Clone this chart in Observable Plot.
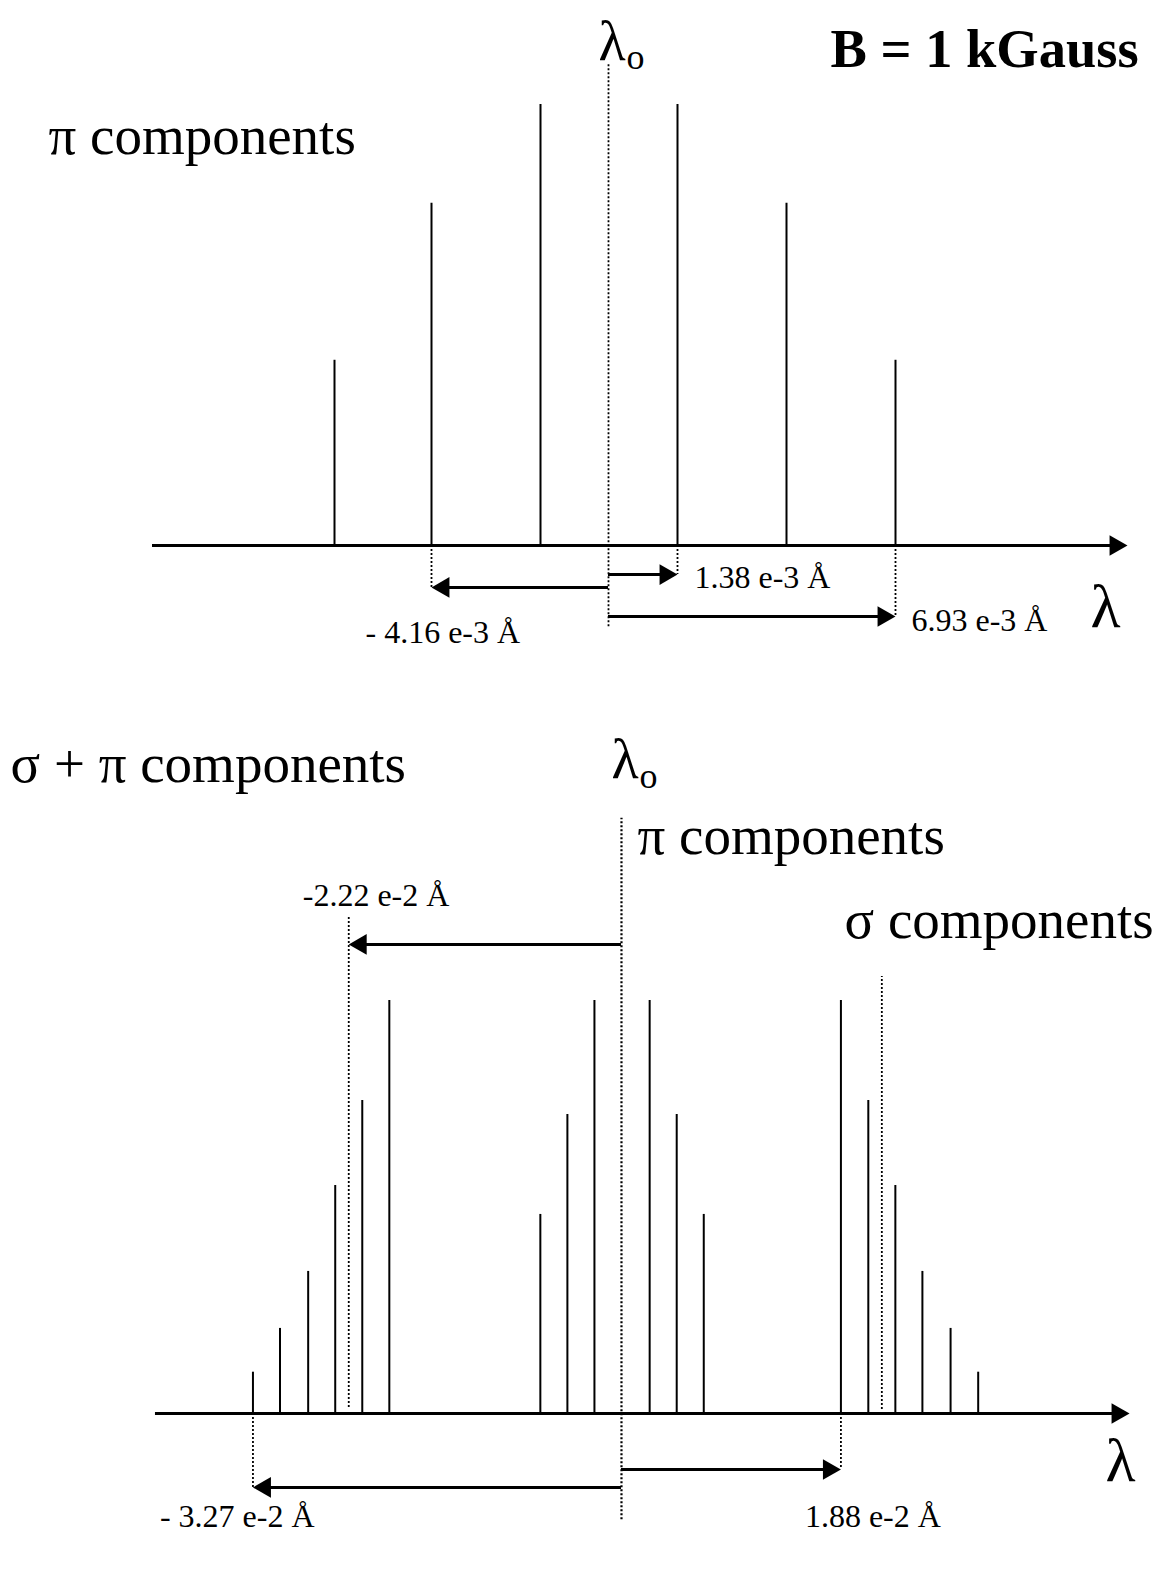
<!DOCTYPE html>
<html>
<head>
<meta charset="utf-8">
<script src="https://cdn.jsdelivr.net/npm/d3@7"></script>
<script src="https://cdn.jsdelivr.net/npm/@observablehq/plot@0.6"></script>
<style>
  html, body { margin: 0; padding: 0; background: #fff; }
  #chart { width: 1165px; }
  #chart svg { display: block; background: #fff; }
</style>
</head>
<body>
<div id="chart"></div>
<script>
// ================= DATA =================
// Top panel (B = 1 kGauss): π components, schematic offsets from λo (units of 1e-3 Å) and relative strengths
const topPiOffset   = [-5.48, -3.54, -1.36, 1.38, 3.56, 5.74];
const topPiStrength = [0.42, 0.776, 1.0, 1.0, 0.776, 0.42];
// Shift annotations: label text, and index of the line each arrow points to
const topShiftLabel = ["1.38 e-3 Å", "- 4.16 e-3 Å", "6.93 e-3 Å"];
const topShiftLine  = [3, 1, 5];

// Bottom panel: σ + π components, schematic offsets from λo (units of 1e-2 Å) and relative strengths
const sigmaBlueOffset   = [-3.27, -3.03, -2.78, -2.54, -2.30, -2.06];
const sigmaBlueStrength = [0.10, 0.206, 0.344, 0.552, 0.758, 1.0];
const piOffset          = [-0.72, -0.48, -0.24, 0.25, 0.49, 0.73];
const piStrength        = [0.482, 0.724, 1.0, 1.0, 0.724, 0.482];
const sigmaRedOffset    = [1.947, 2.19, 2.43, 2.67, 2.92, 3.165];
const sigmaRedStrength  = [1.0, 0.758, 0.552, 0.344, 0.206, 0.10];
const sigmaCentroid     = [-2.42, 2.31];
const bottomShiftLabel  = ["-2.22 e-2 Å", "- 3.27 e-2 Å", "1.88 e-2 Å"];
// index into: 0 -> left σ centroid, 1 -> first σ line (blue side), 2 -> first σ line (red side)
const bottomShiftTarget = [sigmaCentroid[0], sigmaBlueOffset[0], sigmaRedOffset[0]];

// ================= LAYOUT =================
const W = 1165;
const FONT = "Liberation Serif, Times New Roman, serif";
const HEAD_R = 7.7;               // arrowhead size (px)
const HEAD_DX = 1.555 * HEAD_R;   // centroid-to-tip distance of triangle symbol

const topLayout = {
  height: 690,
  xDomain: [-12.16, 11.14],
  yDomain: [-0.3288, 1.2358],
  axis: [-9.12, 10.38],
  center: [-0.184, 1.093],
  arrowLevel: [-0.066, -0.095, -0.161],
  labelDx: [17, -66, 16],
  labelY: [-0.0975, -0.222, -0.193]
};
const botLayout = {
  height: 901,
  xDomain: [-5.51, 4.827],
  yDomain: [-0.431, 1.7506],
  axis: [-4.135, 4.508],
  center: [-0.257, 1.441],
  centroidSpan: [[0.0145, 1.203], [0.0097, 1.058]],
  arrowLevel: [1.1356, -0.179, -0.1356],
  labelDx: [-46, -93, -36],
  labelY: [1.2276, -0.276, -0.276]
};

const lineStyle = {stroke: "black", strokeWidth: 2};
const dotted = {stroke: "black", strokeWidth: 1.8, strokeDasharray: "2,2"};

function title(text, px, py, size, weight = "normal") {
  return Plot.text([text], {
    frameAnchor: "top-left", dx: px, dy: py,
    textAnchor: "start", lineAnchor: "bottom",
    fontFamily: FONT, fontSize: size, fontWeight: weight, fill: "black"
  });
}

function axisMarks(L) {
  return [
    Plot.ruleY([0], {x1: L.axis[0], x2: L.axis[1], stroke: "black", strokeWidth: 3, insetRight: 12}),
    Plot.dot([L.axis[1]], {x: d => d, y: 0, symbol: "triangle", r: HEAD_R, rotate: 90, dx: -HEAD_DX, fill: "black", stroke: "none"})
  ];
}

function shiftMarks(L, labels, targets) {
  const rows = labels.map((label, i) => ({label, target: targets[i], level: L.arrowLevel[i], dx: L.labelDx[i], ly: L.labelY[i]}));
  const right = rows.filter(d => d.target > 0);
  const left = rows.filter(d => d.target < 0);
  return [
    // dotted drop lines from the axis to the arrow at the target position
    Plot.ruleX(rows.filter(d => d.level < 0), {x: "target", y1: 0, y2: "level", ...dotted}),
    // arrow shafts
    Plot.ruleY(right, {y: "level", x1: 0, x2: "target", stroke: "black", strokeWidth: 3, insetRight: HEAD_DX}),
    Plot.ruleY(left, {y: "level", x1: "target", x2: 0, stroke: "black", strokeWidth: 3, insetLeft: HEAD_DX}),
    // arrow heads
    Plot.dot(right, {x: "target", y: "level", symbol: "triangle", r: HEAD_R, rotate: 90, dx: -HEAD_DX, fill: "black", stroke: "none"}),
    Plot.dot(left, {x: "target", y: "level", symbol: "triangle", r: HEAD_R, rotate: -90, dx: HEAD_DX, fill: "black", stroke: "none"}),
    // labels
    ...rows.map(d => Plot.text([d], {x: "target", y: "ly", text: "label", dx: d.dx, textAnchor: "start", lineAnchor: "bottom", fontFamily: FONT, fontSize: 32, fill: "black"}))
  ];
}

// ================= TOP PANEL =================
const topLines = topPiOffset.map((x, i) => ({x, s: topPiStrength[i]}));
const topPlot = Plot.plot({
  width: W, height: topLayout.height, margin: 0,
  x: {domain: topLayout.xDomain, range: [0, W], axis: null},
  y: {domain: topLayout.yDomain, range: [topLayout.height, 0], axis: null},
  style: {fontFamily: FONT, background: "white"},
  marks: [
    Plot.ruleX([0], {y1: topLayout.center[0], y2: topLayout.center[1], ...dotted}),
    Plot.ruleX(topLines, {x: "x", y1: 0, y2: "s", ...lineStyle}),
    ...axisMarks(topLayout),
    ...shiftMarks(topLayout, topShiftLabel, topShiftLine.map(i => topPiOffset[i])),
    title("π components", 48, 153, 55),
    title("λ", 598, 59, 56),
    title("o", 626, 68, 36),
    title("B = 1 kGauss", 830, 66, 54.5, "bold"),
    title("λ", 1090, 626, 62)
  ]
});

// ================= BOTTOM PANEL =================
const botLines = [
  ...sigmaBlueOffset.map((x, i) => ({x, s: sigmaBlueStrength[i]})),
  ...piOffset.map((x, i) => ({x, s: piStrength[i]})),
  ...sigmaRedOffset.map((x, i) => ({x, s: sigmaRedStrength[i]}))
];
const centroids = sigmaCentroid.map((x, i) => ({x, y1: botLayout.centroidSpan[i][0], y2: botLayout.centroidSpan[i][1]}));
const botPlot = Plot.plot({
  width: W, height: botLayout.height, margin: 0,
  x: {domain: botLayout.xDomain, range: [0, W], axis: null},
  y: {domain: botLayout.yDomain, range: [botLayout.height, 0], axis: null},
  style: {fontFamily: FONT, background: "white"},
  marks: [
    Plot.ruleX([0], {y1: botLayout.center[0], y2: botLayout.center[1], ...dotted, strokeWidth: 2.2}),
    Plot.ruleX(centroids, {x: "x", y1: "y1", y2: "y2", ...dotted}),
    Plot.ruleX(botLines, {x: "x", y1: 0, y2: "s", ...lineStyle}),
    ...axisMarks(botLayout),
    ...shiftMarks(botLayout, bottomShiftLabel, bottomShiftTarget),
    title("σ + π components", 10, 91, 55),
    title("λ", 611, 87, 56),
    title("o", 639, 97, 36),
    title("π components", 637, 163, 55),
    title("σ components", 844, 247, 55),
    title("λ", 1105, 790, 62)
  ]
});

const chart = document.getElementById("chart");
chart.appendChild(topPlot);
chart.appendChild(botPlot);
</script>
</body>
</html>
